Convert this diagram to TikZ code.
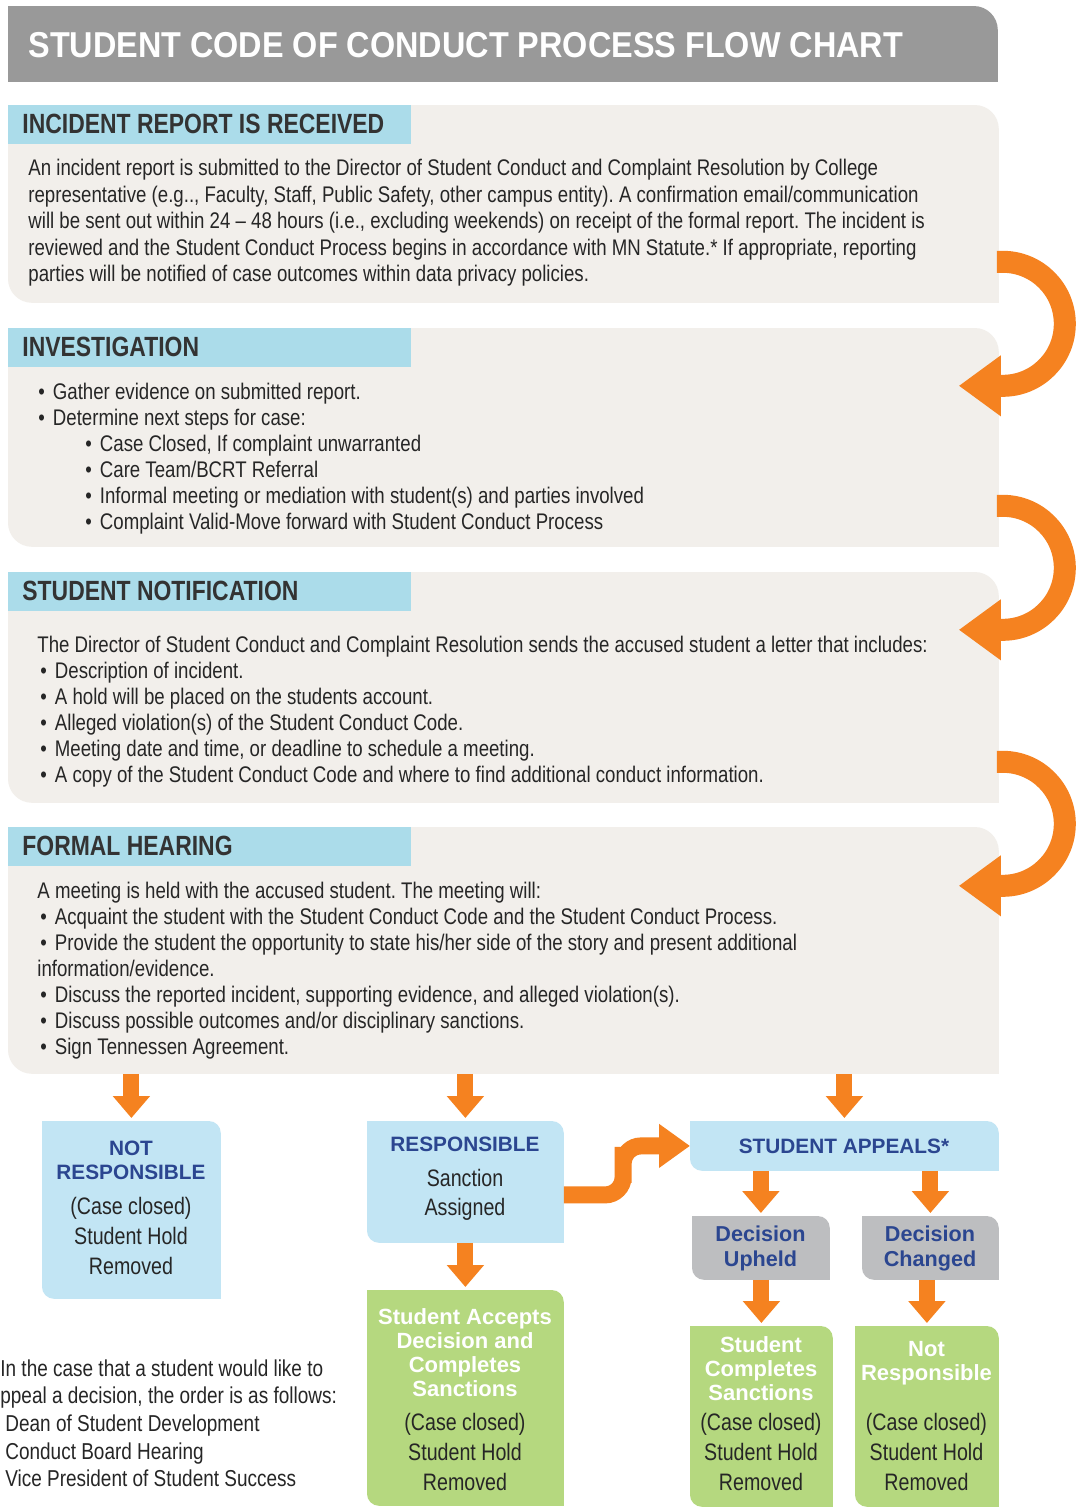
\documentclass[tikz,border=0pt]{standalone}
\usepackage{fontspec}
\setmainfont{Liberation Sans}
\newfontfamily\condfont{Liberation Sans}[FakeStretch=0.825]
\newfontfamily\titlefont{Liberation Sans}[FakeStretch=0.9]
\usetikzlibrary{arrows.meta,backgrounds,calc}
\definecolor{titlegray}{HTML}{999999}
\definecolor{panelbg}{HTML}{F2EFEB}
\definecolor{tabblue}{HTML}{ABDCEA}
\definecolor{boxblue}{HTML}{C2E5F4}
\definecolor{boxgray}{HTML}{BDBEC0}
\definecolor{boxgreen}{HTML}{B5D87F}
\definecolor{flow}{HTML}{F58220}
\definecolor{navy}{HTML}{2B4690}
\definecolor{headgray}{HTML}{333333}
\definecolor{bodygray}{HTML}{262626}
\frenchspacing

% fill with rounded top-right and bottom-left corners
\newcommand{\cutfill}[3][12pt]{%
  \fill[#2] (#3.north west) -- ([xshift=-#1]#3.north east)
    arc[start angle=90,end angle=0,radius=#1] -- (#3.south east)
    -- ([xshift=#1]#3.south west) arc[start angle=270,end angle=180,radius=#1] -- cycle;}
\newcommand{\bul}{\textbullet\hspace{4pt}}

\begin{document}
\begin{tikzpicture}[x=0.5pt,y=-0.5pt,
    panel/.style={anchor=north west,inner sep=0,minimum width=495pt},
    tab/.style={anchor=north west,inner sep=0,fill=tabblue,minimum width=201.5pt,minimum height=19.5pt},
    heading/.style={anchor=west,inner sep=0,text=headgray,font=\condfont\bfseries\fontsize{13.9}{16}\selectfont},
    body/.style={anchor=north west,inner sep=0,align=left,text=bodygray,font=\condfont\fontsize{11.3}{13}\selectfont},
    flowbox/.style={anchor=north west,inner sep=0},
    boxhead/.style={inner sep=0,align=center,text=navy,font=\bfseries\fontsize{10.4}{12}\selectfont},
    greenhead/.style={inner sep=0,align=center,text=white,font=\bfseries\fontsize{11}{12}\selectfont},
    boxbody/.style={inner sep=0,align=center,text=bodygray,font=\condfont\fontsize{11.9}{15}\selectfont},
    flowarrow/.style={draw=flow,line width=8pt,-{Triangle[length=11pt,width=18pt]}},
    turnarrow/.style={draw=flow,line width=11pt,-{Triangle[length=21pt,width=29pt]}}]
  \useasboundingbox (0,0) rectangle (1078,1512);

  % title
  \node[anchor=north west,inner sep=0,minimum width=494.5pt,minimum height=37.5pt] (titlebar) at (8,6) {};
  \node[anchor=west,inner sep=0,text=white,font=\titlefont\bfseries\fontsize{18}{20}\selectfont] (titletext) at (28,45)
    {STUDENT CODE OF CONDUCT PROCESS FLOW CHART};

  % the four steps
  \foreach \name/\top/\h/\head in {p1/105/197/INCIDENT REPORT IS RECEIVED,
      p2/328/218/INVESTIGATION, p3/572/230/STUDENT NOTIFICATION, p4/827/246/FORMAL HEARING}{
    \node[panel,minimum height=\h*0.5pt] (\name) at (8,\top) {};
    \node[tab] (\name-tab) at (8,\top) {};
    \node[heading] (\name-head) at (22,\top+18.5) {\head};
  }

  \node[body,font=\condfont\fontsize{11.3}{13.25}\selectfont] (p1-text) at (28,159) {An incident report is submitted to the Director of Student Conduct and Complaint Resolution by College\\
    representative (e.g.., Faculty, Staff, Public Safety, other campus entity). A confirmation email/communication\\
    will be sent out within 24 – 48 hours (i.e., excluding weekends) on receipt of the formal report. The incident is\\
    reviewed and the Student Conduct Process begins in accordance with MN Statute.* If appropriate, reporting\\
    parties will be notified of case outcomes within data privacy policies.};
  \node[body] (p2-text) at (38,383) {\bul Gather evidence on submitted report.\\
    \bul Determine next steps for case:\\
    \hspace*{23.5pt}\bul Case Closed, If complaint unwarranted\\
    \hspace*{23.5pt}\bul Care Team/BCRT Referral\\
    \hspace*{23.5pt}\bul Informal meeting or mediation with student(s) and parties involved\\
    \hspace*{23.5pt}\bul Complaint Valid-Move forward with Student Conduct Process};
  \node[body] (p3-text) at (37,636) {The Director of Student Conduct and Complaint Resolution sends the accused student a letter that includes:\\
    \hspace*{1.5pt}\bul Description of incident.\\
    \hspace*{1.5pt}\bul A hold will be placed on the students account.\\
    \hspace*{1.5pt}\bul Alleged violation(s) of the Student Conduct Code.\\
    \hspace*{1.5pt}\bul Meeting date and time, or deadline to schedule a meeting.\\
    \hspace*{1.5pt}\bul A copy of the Student Conduct Code and where to find additional conduct information.};
  \node[body] (p4-text) at (37,882) {A meeting is held with the accused student. The meeting will:\\
    \hspace*{1.5pt}\bul Acquaint the student with the Student Conduct Code and the Student Conduct Process.\\
    \hspace*{1.5pt}\bul Provide the student the opportunity to state his/her side of the story and present additional\\
    information/evidence.\\
    \hspace*{1.5pt}\bul Discuss the reported incident, supporting evidence, and alleged violation(s).\\
    \hspace*{1.5pt}\bul Discuss possible outcomes and/or disciplinary sanctions.\\
    \hspace*{1.5pt}\bul Sign Tennessen Agreement.};

  % outcome boxes
  \node[flowbox,minimum width=89pt,minimum height=88.5pt] (nr) at (42,1121) {};
  \node[flowbox,minimum width=98pt,minimum height=60.5pt] (resp) at (367,1121) {};
  \node[flowbox,minimum width=98pt,minimum height=107.5pt] (sa) at (367,1290) {};
  \node[flowbox,minimum width=154pt,minimum height=24.5pt] (appeal) at (690,1121) {};
  \node[flowbox,minimum width=68.5pt,minimum height=31.5pt] (du) at (692,1216) {};
  \node[flowbox,minimum width=68pt,minimum height=31.5pt] (dc) at (862,1216) {};
  \node[flowbox,minimum width=71pt,minimum height=90pt] (sc) at (690,1326) {};
  \node[flowbox,minimum width=71.5pt,minimum height=90pt] (nr2) at (855,1326) {};

  \node[boxhead] (nr-head) at (131,1160) {NOT\\RESPONSIBLE};
  \node[boxbody] (nr-text) at (131,1236) {(Case closed)\\Student Hold\\Removed};
  \node[boxhead] (resp-head) at (465,1144) {RESPONSIBLE};
  \node[boxbody,font=\condfont\fontsize{11.9}{14.5}\selectfont] (resp-text) at (465,1194.5) {Sanction\\Assigned};
  \node[boxhead] (appeal-head) at (844,1146) {STUDENT APPEALS*};
  \node[boxhead,font=\bfseries\fontsize{10.8}{12.5}\selectfont] (du-head) at (760.5,1248.5) {Decision\\Upheld};
  \node[boxhead,font=\bfseries\fontsize{10.8}{12.5}\selectfont] (dc-head) at (930,1248.5) {Decision\\Changed};
  \node[greenhead] (sa-head) at (465,1353) {Student Accepts\\Decision and\\Completes\\Sanctions};
  \node[boxbody] (sa-text) at (465,1452) {(Case closed)\\Student Hold\\Removed};
  \node[greenhead] (sc-head) at (761,1369) {Student\\Completes\\Sanctions};
  \node[boxbody] (sc-text) at (761,1452) {(Case closed)\\Student Hold\\Removed};
  \node[greenhead] (nr2-head) at (926.5,1363) {Not\\Responsible};
  \node[boxbody] (nr2-text) at (926.5,1452) {(Case closed)\\Student Hold\\Removed};

  \node[body,font=\condfont\fontsize{11.5}{13.85}\selectfont] (appealnote) at (0,1359) {In the case that a student would like to\\
    ppeal a decision, the order is as follows:\\
    \hspace*{2.5pt}Dean of Student Development\\
    \hspace*{2.5pt}Conduct Board Hearing\\
    \hspace*{2.5pt}Vice President of Student Success};

  % arrows
  \foreach \a in {p1,p2,p3}
    \draw[turnarrow] ($(\a.south east)+(-2,-41)$) -- ++(6,0)
      arc[start angle=90,end angle=-90,radius=31pt] -- ++(-44,0);
  \foreach \a/\b in {p4/nr,p4/resp,p4/appeal,appeal/du,appeal/dc,du/sc,dc/nr2,resp/sa}
    \draw[flowarrow] (\a.south -| \b.north) -- ([yshift=1.5pt]\b.north);
  \draw[draw=flow,line width=8.5pt,rounded corners=9pt,-{Triangle[length=15.5pt,width=21pt]}]
    ($(resp.east)+(0,13)$) -| ($(resp.east)!0.47!(appeal.west)$) |- (appeal.west);

  \begin{scope}[on background layer]
    \fill[white] (0,0) rectangle (1078,1512);
    \fill[titlegray] (titlebar.south west) -- (titlebar.north west) -- ([xshift=-12pt]titlebar.north east)
      arc[start angle=90,end angle=0,radius=12pt] -- (titlebar.south east) -- cycle;
    \foreach \name in {p1,p2,p3,p4} \cutfill{panelbg}{\name};
    \foreach \name in {nr,resp,appeal} \cutfill[6pt]{boxblue}{\name};
    \foreach \name in {du,dc} \cutfill[6pt]{boxgray}{\name};
    \foreach \name in {sa,sc,nr2} \cutfill[6pt]{boxgreen}{\name};
  \end{scope}
\end{tikzpicture}
\end{document}
